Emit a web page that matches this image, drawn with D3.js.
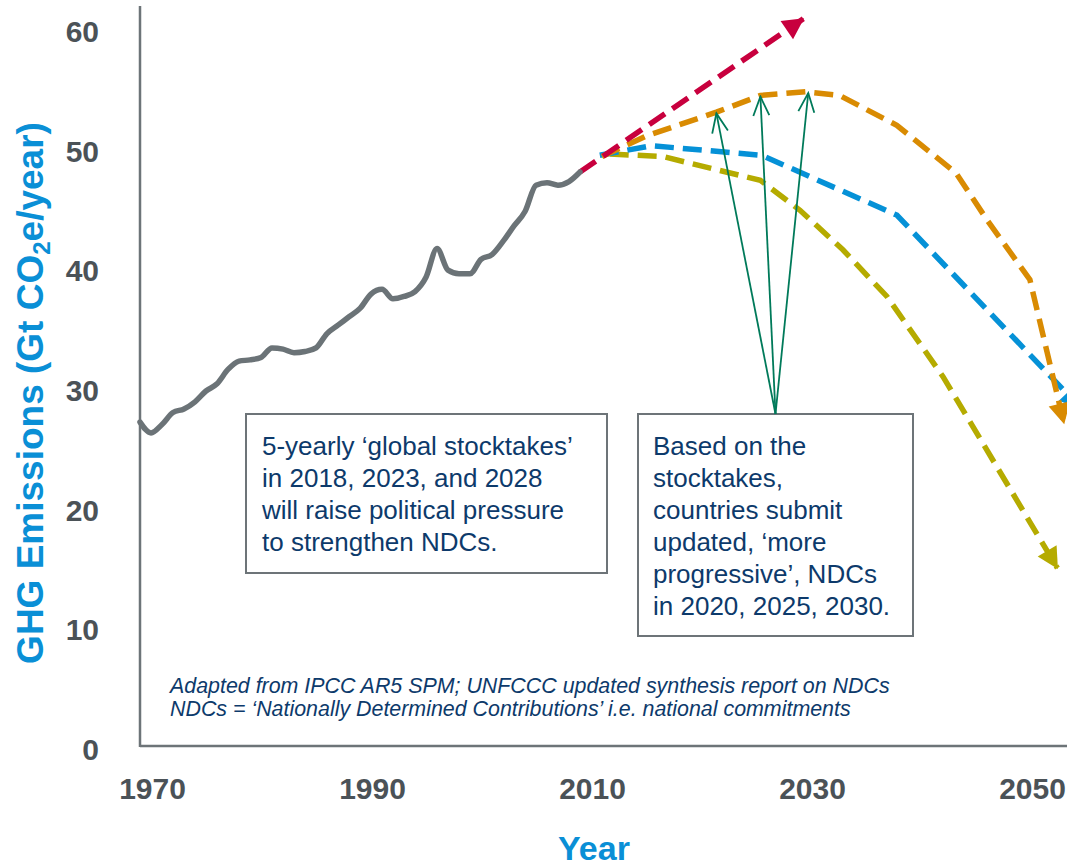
<!DOCTYPE html>
<html>
<head>
<meta charset="utf-8">
<script src="https://cdn.jsdelivr.net/npm/d3@7/dist/d3.min.js"></script>
<style>
  html, body { margin: 0; padding: 0; background: #fff; }
  svg { display: block; font-family: "Liberation Sans", Arial, sans-serif; }
</style>
</head>
<body>
<svg id="chart" width="1067" height="867"></svg>
<script>
// ---------- DATA ----------
const histYears = d3.range(1970, 2011);
const histValues = [27.4, 26.5, 27.2, 28.2, 28.5, 29.1, 30.0, 30.6, 31.8, 32.5,
                    32.6, 32.8, 33.6, 33.5, 33.2, 33.3, 33.6, 34.8, 35.5, 36.2,
                    36.9, 38.1, 38.5, 37.7, 37.9, 38.3, 39.5, 41.9, 40.1, 39.8,
                    39.8, 41.0, 41.4, 42.5, 43.8, 45.0, 47.2, 47.4, 47.2, 47.5, 48.3];

const redYears = [2010, 2030.3];
const redValues = [48.3, 61.1];

const orangeYears = [2012, 2016, 2022.4, 2026.4, 2030.5, 2033.6, 2038.8, 2044.2, 2047, 2050.9, 2054.0];
const orangeValues = [49.6, 51.3, 53.3, 54.7, 55.0, 54.7, 52.2, 48.2, 44.3, 39.3, 27.3];

const blueYears = [2011.8, 2016.5, 2026.5, 2038.8, 2055.5];
const blueValues = [49.7, 50.5, 49.7, 44.7, 28.6];

const yellowYears = [2012.7, 2017.5, 2026.4, 2030, 2033.9, 2037.9, 2043, 2053.4];
const yellowValues = [49.8, 49.6, 47.6, 45.1, 41.8, 37.9, 31.2, 15.2];

// annotation arrow targets (NDC update years on orange path)
const ndcArrowYears = [2022.4, 2026.4, 2030.75];
const ndcArrowValues = [53.2, 54.6, 54.9];

const yTicks = [0, 10, 20, 30, 40, 50, 60];
const xTicks = [1970, 1990, 2010, 2030, 2050];

const box1Lines = ["5-yearly \u2018global stocktakes\u2019", "in 2018, 2023, and 2028", "will raise political pressure", "to strengthen NDCs."];
const box2Lines = ["Based on the", "stocktakes,", "countries submit", "updated, \u2018more", "progressive\u2019, NDCs", "in 2020, 2025, 2030."];
const noteLines = ["Adapted from IPCC AR5 SPM; UNFCCC updated synthesis report on NDCs",
                   "NDCs = \u2018Nationally Determined Contributions\u2019 i.e. national commitments"];

// ---------- STYLE ----------
const C = {
  gray: "#6b7377", axis: "#6d7478", tick: "#4b5257", blue: "#0a8fd6",
  red: "#c8003e", orange: "#d98b02", lineBlue: "#0591d7", yellow: "#b5ab00",
  green: "#007a5a", navy: "#0d3a6b"
};

const svg = d3.select("#chart");
svg.append("rect").attr("width", 1067).attr("height", 867).attr("fill", "#fff");

const x = d3.scaleLinear().domain([1970, 2010]).range([140, 580]);
const y = d3.scaleLinear().domain([0, 60]).range([750, 32]);

// markers
const defs = svg.append("defs");
function filledMarker(id, color) {
  defs.append("marker").attr("id", id)
    .attr("viewBox", "-22 -12 24 24").attr("refX", 0).attr("refY", 0)
    .attr("markerUnits", "userSpaceOnUse").attr("markerWidth", 24).attr("markerHeight", 24)
    .attr("orient", "auto")
    .append("path").attr("d", "M1,0 L-20,-11 L-20,11 Z").attr("fill", color);
}
filledMarker("mRed", C.red);
filledMarker("mOrange", C.orange);
filledMarker("mBlue", C.lineBlue);
filledMarker("mYellow", C.yellow);
defs.append("marker").attr("id", "mGreen")
  .attr("viewBox", "-22 -12 24 24").attr("refX", 0).attr("refY", 0)
  .attr("markerUnits", "userSpaceOnUse").attr("markerWidth", 24).attr("markerHeight", 24)
  .attr("orient", "auto")
  .append("path").attr("d", "M-19,-8 L0,0 L-19,8").attr("fill", "none")
  .attr("stroke", C.green).attr("stroke-width", 1.8);

// axes lines
const axisY0 = y(0) - 4;
svg.append("line").attr("x1", x(1970)).attr("x2", x(1970)).attr("y1", 6).attr("y2", axisY0 + 1)
  .attr("stroke", C.axis).attr("stroke-width", 2.5);
svg.append("line").attr("x1", x(1970)).attr("x2", 1067).attr("y1", axisY0).attr("y2", axisY0)
  .attr("stroke", C.axis).attr("stroke-width", 2.5);

// y tick labels
const gy = svg.append("g").attr("transform", "translate(99,0)")
  .call(d3.axisLeft(y).tickValues(yTicks).tickSize(0).tickPadding(0));
gy.select(".domain").remove();
gy.selectAll("text").attr("font-size", 30).attr("font-weight", "bold").attr("fill", C.tick)
  .attr("font-family", "Liberation Sans, Arial, sans-serif");

// x tick labels
const gx = svg.append("g").attr("transform", "translate(12,778)")
  .call(d3.axisBottom(x).tickValues(xTicks).tickFormat(d3.format("d")).tickSize(0).tickPadding(0));
gx.select(".domain").remove();
gx.selectAll("text").attr("font-size", 30).attr("font-weight", "bold").attr("fill", C.tick)
  .attr("font-family", "Liberation Sans, Arial, sans-serif");

// axis titles
const yt = svg.append("text").attr("transform", "translate(43,393) rotate(-90)")
  .attr("text-anchor", "middle").attr("font-size", 37).attr("font-weight", "bold").attr("fill", C.blue);
yt.append("tspan").text("GHG Emissions (Gt CO");
yt.append("tspan").text("2").attr("font-size", 24).attr("dy", 7);
yt.append("tspan").text("e/year)").attr("dy", -7);

svg.append("text").attr("x", 594).attr("y", 860).attr("text-anchor", "middle")
  .attr("font-size", 34).attr("font-weight", "bold").attr("fill", C.blue).text("Year");

// boxes
function box(x0, y0, w, h, lines, tx, firstBase) {
  svg.append("rect").attr("x", x0).attr("y", y0).attr("width", w).attr("height", h)
    .attr("fill", "#fff").attr("stroke", C.axis).attr("stroke-width", 2);
  const t = svg.append("text").attr("font-size", 26).attr("fill", C.navy);
  lines.forEach((s, i) => t.append("tspan").attr("x", tx).attr("y", firstBase + i * 32).text(s));
}
box(246, 414, 361, 159, box1Lines, 262, 455);
box(638, 414, 275, 222, box2Lines, 653, 455);

// footnote
const nt = svg.append("text").attr("font-size", 21.4).attr("font-style", "italic").attr("fill", C.navy);
noteLines.forEach((s, i) => nt.append("tspan").attr("x", 170).attr("y", 693 + i * 23).text(s));

// lines
const line = d3.line().x(d => x(d[0])).y(d => y(d[1]));
const zip = (a, b) => a.map((v, i) => [v, b[i]]);

function dashed(years, vals, color, marker) {
  svg.append("path").datum(zip(years, vals))
    .attr("d", line).attr("fill", "none").attr("stroke", color)
    .attr("stroke-width", 5.5).attr("stroke-dasharray", "19,9")
    .attr("marker-end", `url(#${marker})`);
}
dashed(yellowYears, yellowValues, C.yellow, "mYellow");
dashed(blueYears, blueValues, C.lineBlue, "mBlue");
dashed(orangeYears, orangeValues, C.orange, "mOrange");
dashed(redYears, redValues, C.red, "mRed");

svg.append("path").datum(zip(histYears, histValues))
  .attr("d", line.curve(d3.curveMonotoneX)).attr("fill", "none").attr("stroke", C.gray)
  .attr("stroke-width", 5.5).attr("stroke-linejoin", "round").attr("stroke-linecap", "round");

// green annotation arrows from box 2 top center
const ox = 638 + 275 / 2, oy = 414;
ndcArrowYears.forEach((yr, i) => {
  svg.append("line").attr("x1", ox).attr("y1", oy).attr("x2", x(yr)).attr("y2", y(ndcArrowValues[i]))
    .attr("stroke", C.green).attr("stroke-width", 1.8).attr("marker-end", "url(#mGreen)");
});
</script>
</body>
</html>
